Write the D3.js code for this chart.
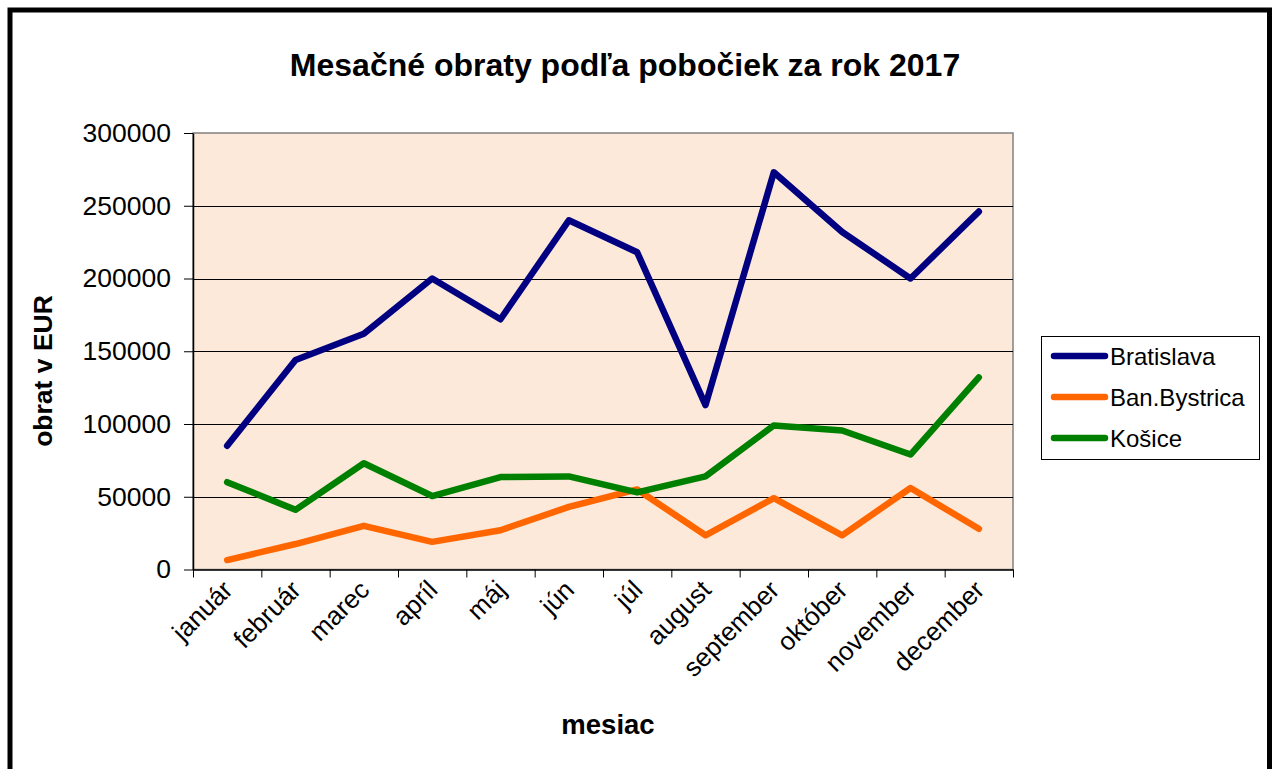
<!DOCTYPE html>
<html>
<head>
<meta charset="utf-8">
<script src="https://cdn.jsdelivr.net/npm/d3@7"></script>
<style>
  body { margin: 0; background: #fff; }
  svg { display: block; font-family: "Liberation Sans", Arial, sans-serif; }
</style>
</head>
<body>
<div id="chart"></div>
<script>
// mesacne obraty - line chart
var months = ["január","február","marec","apríl","máj","jún","júl","august","september","október","november","december"];
var bratislava = [85000,144000,162000,200000,172000,240000,218000,113000,273000,232000,200000,246000];
var banBystrica = [6500,17500,30000,19000,27000,43000,55000,23500,49000,23500,56000,28000];
var kosice = [60000,41000,73000,50500,63500,64000,53000,64000,99000,95500,79000,132000];
var seriesNames = ["Bratislava","Ban.Bystrica","Košice"];
var yTicks = [0,50000,100000,150000,200000,250000,300000];

function draw(){
    var width = 1272, height = 769;
    var plot = { left: 193, right: 1013, top: 133, bottom: 569.5 };
    var colors = ["#000080","#ff6600","#008000"];

    var svg = d3.select("#chart").append("svg")
        .attr("width", width)
        .attr("height", height);

    // outer frame
    svg.append("rect")
        .attr("x", 10).attr("y", 10)
        .attr("width", 1259.5).attr("height", 900)
        .attr("fill", "#fff")
        .attr("stroke", "#000")
        .attr("stroke-width", 5);

    let x = d3.scaleBand()
        .domain(months)
        .range([plot.left, plot.right]);

    let xEdge = d3.scaleLinear()
        .domain([0, months.length])
        .range([plot.left, plot.right]);

    let y = d3.scaleLinear()
        .domain([0, 300000])
        .range([plot.bottom, plot.top]);

    // plot background
    svg.append("rect")
        .attr("x", plot.left).attr("y", plot.top)
        .attr("width", plot.right - plot.left)
        .attr("height", plot.bottom - plot.top)
        .attr("fill", "#fde9d9")
        .attr("stroke", "#808080")
        .attr("stroke-width", 1.5);

    // gridlines
    svg.append("g")
        .selectAll("line")
        .data(yTicks.filter(d => d > 0 && d < 300000))
        .join("line")
        .attr("x1", plot.left).attr("x2", plot.right)
        .attr("y1", d => Math.round(y(d)) + 0.5)
        .attr("y2", d => Math.round(y(d)) + 0.5)
        .attr("stroke", "#000")
        .attr("stroke-width", 1);

    // y axis
    let yAxis = svg.append("g")
        .attr("transform", `translate(${plot.left},0)`)
        .call(d3.axisLeft(y).tickValues(yTicks).tickFormat(d3.format("d")).tickSize(9).tickSizeOuter(0).tickPadding(13));
    yAxis.select(".domain").attr("stroke", "#000").attr("stroke-width", 1.5);
    yAxis.selectAll(".tick line").attr("stroke", "#000");
    yAxis.selectAll("text").attr("font-size", 26.5).attr("fill", "#000")
        .attr("font-family", "Liberation Sans, Arial, sans-serif");

    // x axis (ticks at band edges)
    let xAxis = svg.append("g")
        .attr("transform", `translate(0,${plot.bottom})`)
        .call(d3.axisBottom(xEdge).tickValues(d3.range(0, months.length + 1)).tickFormat("").tickSize(8).tickSizeOuter(0));
    xAxis.select(".domain").attr("stroke", "#000").attr("stroke-width", 1.5);
    xAxis.selectAll(".tick line").attr("stroke", "#000");

    // x labels
    svg.append("g")
        .selectAll("text")
        .data(months)
        .join("text")
        .attr("transform", d => `translate(${x(d) + x.bandwidth() / 2 + 7},${plot.bottom + 22}) rotate(-45)`)
        .attr("text-anchor", "end")
        .attr("font-size", 26)
        .attr("fill", "#000")
        .text(d => d);

    // lines
    let line = d3.line()
        .x((d, i) => x(months[i]) + x.bandwidth() / 2)
        .y(d => y(d));

    [bratislava, banBystrica, kosice].forEach((s, k) => {
        svg.append("path")
            .datum(s)
            .attr("d", line)
            .attr("fill", "none")
            .attr("stroke", colors[k])
            .attr("stroke-width", 6.5)
            .attr("stroke-linejoin", "round")
            .attr("stroke-linecap", "round");
    });

    // title
    svg.append("text")
        .attr("x", 625).attr("y", 76)
        .attr("text-anchor", "middle")
        .attr("font-size", 32)
        .attr("font-weight", "bold")
        .text("Mesačné obraty podľa pobočiek za rok 2017");

    // axis titles
    svg.append("text")
        .attr("transform", "translate(52,371) rotate(-90)")
        .attr("text-anchor", "middle")
        .attr("font-size", 26.5)
        .attr("font-weight", "bold")
        .text("obrat v EUR");

    svg.append("text")
        .attr("x", 608).attr("y", 734)
        .attr("text-anchor", "middle")
        .attr("font-size", 27.5)
        .attr("font-weight", "bold")
        .text("mesiac");

    // legend
    let lg = svg.append("g").attr("transform", "translate(1041,336)");
    lg.append("rect")
        .attr("x", 0.5).attr("y", 0.5)
        .attr("width", 218).attr("height", 123)
        .attr("fill", "#fff")
        .attr("stroke", "#000");
    let item = lg.selectAll("g.item")
        .data(seriesNames)
        .join("g")
        .attr("class", "item")
        .attr("transform", (d, i) => `translate(0,${20 + i * 41})`);
    item.append("line")
        .attr("x1", 13).attr("x2", 64)
        .attr("stroke", (d, i) => colors[i])
        .attr("stroke-width", 6.5)
        .attr("stroke-linecap", "round");
    item.append("text")
        .attr("x", 69).attr("y", 0)
        .attr("dy", "0.36em")
        .attr("font-size", 24)
        .text(d => d);
}
draw()
</script>
</body>
</html>
